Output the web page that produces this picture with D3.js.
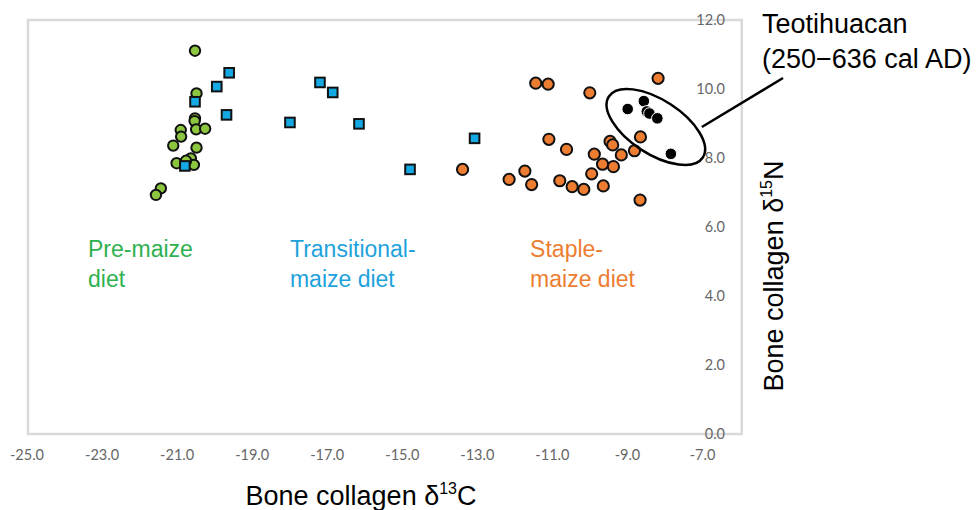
<!DOCTYPE html>
<html><head><meta charset="utf-8">
<script src="https://cdn.jsdelivr.net/npm/d3@7"></script>
<style>
html,body{margin:0;padding:0;background:#fff;}
svg{display:block;}
</style></head>
<body>
<svg id="chart" width="977" height="510"></svg>
<script>
// ---- data (δ13C, δ15N) ----
const preMaize = [
  [-20.51, 11.11], [-20.47, 9.87], [-20.51, 9.15], [-20.52, 9.07], [-20.48, 8.83],
  [-20.24, 8.85], [-20.89, 8.81], [-20.88, 8.62], [-21.09, 8.36], [-20.47, 8.30],
  [-21.00, 7.85], [-20.62, 7.99], [-20.54, 7.80], [-20.75, 7.92], [-21.42, 7.12],
  [-21.55, 6.93]
];
const transitional = [
  [-19.60, 10.47], [-19.93, 10.07], [-19.67, 9.25], [-20.51, 9.63], [-20.78, 7.77],
  [-17.18, 10.19], [-16.84, 9.90], [-17.98, 9.03], [-16.14, 8.99], [-13.06, 8.57],
  [-14.78, 7.67]
];
const stapleMaize = [
  [-13.38, 7.67], [-11.43, 10.17], [-11.10, 10.14], [-9.99, 9.89], [-8.17, 10.31],
  [-11.08, 8.54], [-10.61, 8.25], [-9.87, 8.11], [-9.45, 8.48], [-9.38, 8.38],
  [-9.15, 8.09], [-8.80, 8.21], [-8.64, 8.61], [-9.65, 7.82], [-9.36, 7.75],
  [-9.94, 7.54], [-9.63, 7.19], [-10.79, 7.34], [-10.46, 7.17], [-10.15, 7.09],
  [-11.72, 7.62], [-12.14, 7.38], [-11.54, 7.23], [-8.65, 6.78]
];
const teotihuacan = [
  [-8.98, 9.42], [-8.55, 9.65], [-8.47, 9.35], [-8.40, 9.29], [-8.19, 9.15], [-7.83, 8.12]
];
const xTicks = [-25, -23, -21, -19, -17, -15, -13, -11, -9, -7];
const yTicks = [0, 2, 4, 6, 8, 10, 12];
const groupLabels = [
  {lines: ["Pre-maize", "diet"], x: -23.36, color: "#2fb14f"},
  {lines: ["Transitional-", "maize diet"], x: -17.98, color: "#1ea2dc"},
  {lines: ["Staple-", "maize diet"], x: -11.58, color: "#ed7d31"}
];
const ellipse = {cx: -8.23, cy: 8.90, rx: 56, ry: 27, angle: 33};

// ---- scales ----
const svg = d3.select("#chart");
const x = d3.scaleLinear().domain([-25, -7]).range([26.5, 702]);
const y = d3.scaleLinear().domain([0, 12]).range([434, 20]);
const xRight = -5.94; // plot area right edge

const font = "'Liberation Sans', Arial, sans-serif";
const tickFont = "Lato, 'Open Sans', sans-serif";
const fmt = d => d.toFixed(1);

// plot area frame
svg.append("rect")
  .attr("x", x(-25) + 1.5).attr("y", y(12))
  .attr("width", x(xRight) - x(-25) - 1.5).attr("height", y(0) - y(12))
  .attr("fill", "none").attr("stroke", "#d9d9d9").attr("stroke-width", 2.5);

// x axis
const xAxis = svg.append("g")
  .attr("transform", `translate(0,${y(0)})`)
  .call(d3.axisBottom(x).tickValues(xTicks).tickFormat(fmt).tickSize(0).tickPadding(16));
xAxis.select(".domain").remove();
xAxis.selectAll("text").attr("font-family", tickFont).attr("font-size", 14.5).attr("fill", "#666");

// y axis (labels right of -7)
const yAxis = svg.append("g")
  .attr("transform", `translate(${x(-7) + 23},0)`)
  .call(d3.axisLeft(y).tickValues(yTicks).tickFormat(fmt).tickSize(0).tickPadding(0));
yAxis.select(".domain").remove();
yAxis.selectAll("text").attr("font-family", tickFont).attr("font-size", 14.5).attr("fill", "#666");

// group labels
groupLabels.forEach(g => {
  const t = svg.append("text").attr("font-family", font).attr("font-size", 23).attr("fill", g.color);
  g.lines.forEach((l, i) => {
    t.append("tspan").attr("x", x(g.x)).attr("y", 257 + i * 30).text(l);
  });
});

// points
svg.append("g").selectAll("circle").data(preMaize).join("circle")
  .attr("cx", d => x(d[0])).attr("cy", d => y(d[1])).attr("r", 5.2)
  .attr("fill", "#8cc63f").attr("stroke", "#111").attr("stroke-width", 2);

svg.append("g").selectAll("rect").data(transitional).join("rect")
  .attr("x", d => x(d[0]) - 4.8).attr("y", d => y(d[1]) - 4.8)
  .attr("width", 9.6).attr("height", 9.6)
  .attr("fill", "#14a9e3").attr("stroke", "#111").attr("stroke-width", 2);

svg.append("g").selectAll("circle").data(stapleMaize).join("circle")
  .attr("cx", d => x(d[0])).attr("cy", d => y(d[1])).attr("r", 5.6)
  .attr("fill", "#ed7d31").attr("stroke", "#111").attr("stroke-width", 2);

svg.append("g").selectAll("circle").data(teotihuacan).join("circle")
  .attr("cx", d => x(d[0])).attr("cy", d => y(d[1])).attr("r", 5.8)
  .attr("fill", "#000").attr("stroke", "#fff").attr("stroke-width", 1);

// ellipse annotation
svg.append("ellipse")
  .attr("cx", 0).attr("cy", 0).attr("rx", ellipse.rx).attr("ry", ellipse.ry)
  .attr("transform", `translate(${x(ellipse.cx)},${y(ellipse.cy)}) rotate(${ellipse.angle})`)
  .attr("fill", "none").attr("stroke", "#000").attr("stroke-width", 2.5);

// connector
const ex = x(ellipse.cx), ey = y(ellipse.cy);
svg.append("line")
  .attr("x1", ex + 46).attr("y1", ey)
  .attr("x2", 783).attr("y2", 78)
  .attr("stroke", "#000").attr("stroke-width", 2.5);

// annotation text
const ann = svg.append("text").attr("font-family", font).attr("font-size", 27).attr("fill", "#000");
ann.append("tspan").attr("x", 762).attr("y", 33).text("Teotihuacan");
ann.append("tspan").attr("x", 762).attr("y", 68).text("(250\u2212636 cal AD)");

// axis titles
const xt = svg.append("text").attr("font-family", font).attr("font-size", 27).attr("fill", "#000")
  .attr("x", 361).attr("y", 505).attr("text-anchor", "middle");
xt.append("tspan").text("Bone collagen \u03b4");
xt.append("tspan").attr("font-size", 16).attr("dy", -11).text("13");
xt.append("tspan").attr("dy", 11).text("C");

const yt = svg.append("text").attr("font-family", font).attr("font-size", 27).attr("fill", "#000")
  .attr("transform", "translate(783,276) rotate(-90)").attr("text-anchor", "middle");
yt.append("tspan").text("Bone collagen \u03b4");
yt.append("tspan").attr("font-size", 16).attr("dy", -11).text("15");
yt.append("tspan").attr("dy", 11).text("N");
</script>
</body></html>
